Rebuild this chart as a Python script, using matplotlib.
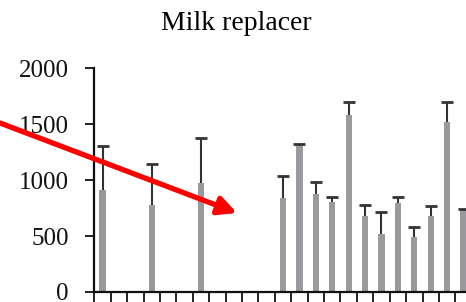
import numpy as np
import matplotlib
matplotlib.use("Agg")
import matplotlib.pyplot as plt

# category positions that carry a bar (others are empty)
positions = [0, 3, 6, 11, 12, 13, 14, 15, 16, 17, 18, 19, 20, 21, 22]
means = [912, 778, 978, 838, 1306, 877, 802, 1580, 683, 516, 793, 495, 683, 1520, 733]
upper = [1306, 1142, 1380, 1040, 1324, 981, 847, 1700, 781, 718, 847, 584, 769, 1700, 742]
n_categories = 24
yticks = [0, 500, 1000, 1500, 2000]

errs = np.array(upper) - np.array(means)

plt.rcParams["font.family"] = ["Liberation Serif", "DejaVu Serif"]

fig = plt.figure(figsize=(4.66, 3.02), dpi=100)
# axes run past the right edge: the reference is a cropped view
ax = fig.add_axes([94.3 / 466, 10 / 302, n_categories * 16.41 / 466, 223.7 / 302])

ax.bar(positions, means, width=0.38, color="#9a9a9e", zorder=2)
eb = ax.errorbar(positions, means, yerr=[np.zeros(len(errs)), errs], fmt="none",
                 ecolor="#333333", elinewidth=1.5, capsize=4.5, capthick=2, zorder=3)
# only the upper cap is drawn
eb[1][0].set_visible(False)

ax.set_xlim(-0.5, n_categories - 0.5)
ax.set_ylim(0, 2000)
ax.set_yticks(yticks)
ax.set_yticklabels([str(v) for v in yticks], fontsize=18)
ax.set_xticks(np.arange(n_categories + 1) - 0.5)
ax.set_xticklabels([])

for s in ["top", "right"]:
    ax.spines[s].set_visible(False)
for s in ["left", "bottom"]:
    ax.spines[s].set_linewidth(1.6)
    ax.spines[s].set_color("#111111")
ax.tick_params(axis="y", direction="out", length=6.5, width=1.3, pad=12, colors="#111111")
ax.tick_params(axis="x", direction="out", length=7, width=1.3, colors="#111111")

fig.text(236.5 / 466, 1 - 30 / 302, "Milk replacer", ha="center", va="baseline", fontsize=20)

# red arrow overlay
ax.annotate("", xy=(237 / 466, 1 - 213 / 302), xytext=(0.0, 1 - 123 / 302),
            xycoords="figure fraction", textcoords="figure fraction",
            arrowprops=dict(arrowstyle="-|>,head_length=1.1,head_width=0.55",
                            color="#ff0000", lw=3.8, shrinkA=0, shrinkB=0),
            annotation_clip=False)

fig.savefig("out.png", dpi=100)
